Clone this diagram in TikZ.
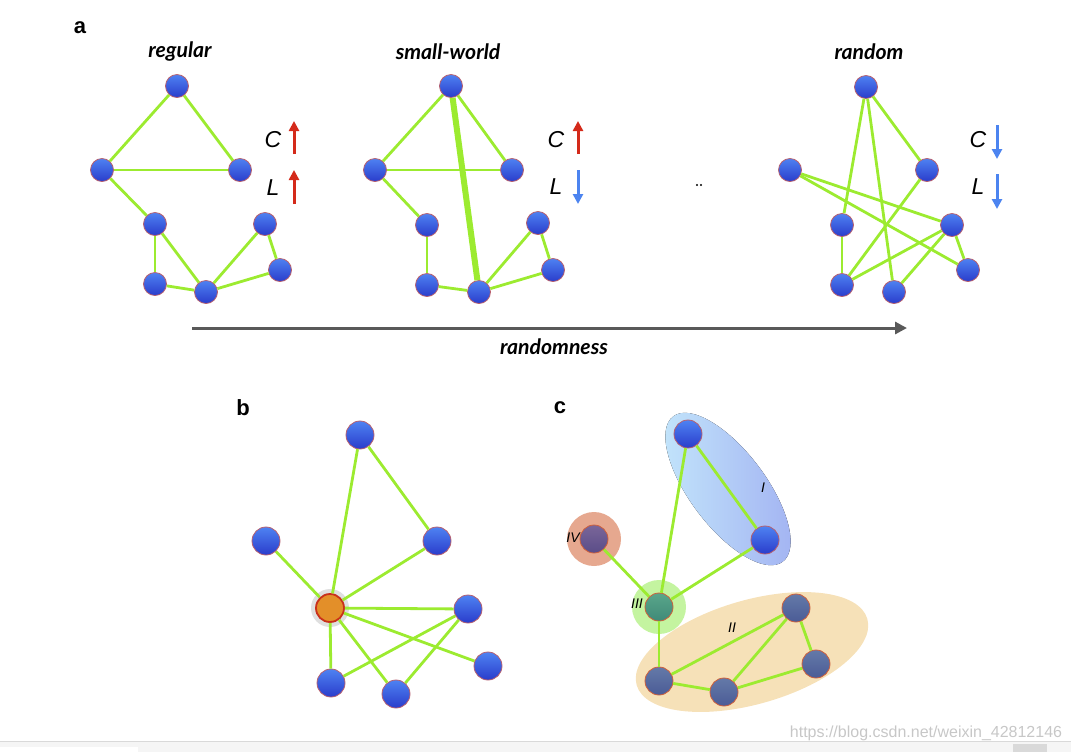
\documentclass[tikz,border=0pt]{standalone}
\usepackage{fontspec}
\setmainfont{Liberation Sans}
\newfontfamily\titlefont{Lato}
\usepackage{xcolor}
\usetikzlibrary{positioning}
\usetikzlibrary{calc}
\usetikzlibrary{arrows.meta}

\definecolor{linkgreen}{HTML}{9CEB30}
\definecolor{nodetop}{HTML}{4E82F2}
\definecolor{nodebot}{HTML}{2A3CCB}
\definecolor{nodering}{HTML}{B8606E}
\definecolor{upred}{HTML}{D42A1A}
\definecolor{downblue}{HTML}{4C84F0}
\definecolor{hubfill}{HTML}{E38F29}
\definecolor{hubring}{HTML}{C9301A}
\definecolor{blobIa}{HTML}{C3E6FB}
\definecolor{blobIb}{HTML}{A2B2F2}
\definecolor{blobII}{HTML}{F6E1B8}
\definecolor{blobIII}{HTML}{C4F4A0}
\definecolor{blobIV}{HTML}{E6A88F}
\definecolor{slatetop}{HTML}{6479A8}
\definecolor{slatebot}{HTML}{4B5C96}
\definecolor{tealtop}{HTML}{5AA68A}
\definecolor{tealbot}{HTML}{3F8A78}
\definecolor{plumtop}{HTML}{7A6699}
\definecolor{plumbot}{HTML}{5A4C88}
\definecolor{warmring}{HTML}{D0603A}

\begin{document}
\begin{tikzpicture}[x=0.5pt, y=-0.5pt, semithick,
  vertex/.style ={circle, draw = nodering, thin, top color = nodetop, bottom color = nodebot, minimum size = 11.5pt, inner sep = 0pt},
  bigvertex/.style ={vertex, minimum size = 14pt},
  toned/.style ={bigvertex, draw = warmring},
  hub/.style ={circle, draw = hubring, line width = 0.9pt, fill = hubfill, minimum size = 14pt, inner sep = 0pt},
  link/.style ={draw = linkgreen, line width = 1.4pt},
  title/.style ={font = \titlefont\bfseries\itshape\fontsize{10.6}{12}\selectfont},
  panel/.style ={font = \bfseries\fontsize{11}{13}\selectfont},
  measure/.style ={font = \itshape\fontsize{11.5}{13}\selectfont},
  region/.style ={font = \itshape\fontsize{7}{8}\selectfont},
  up/.style ={draw = upred, line width = 1.5pt, -{Triangle[length = 5pt, width = 5pt]}},
  down/.style ={draw = downblue, line width = 1.5pt, -{Triangle[length = 5pt, width = 5pt]}}]
\useasboundingbox (0,0) rectangle (1071,752);

% panel a: regular
\node[panel] (pa) at (80,28) {a};
\node[title] (treg) at (180,52) {regular};
\node[vertex] (r1) at (177,86) {};
\node[vertex] (r2) at (102,170) {};
\node[vertex] (r3) at (240,170) {};
\node[vertex] (r4) at (155,224) {};
\node[vertex] (r5) at (265,224) {};
\node[vertex] (r6) at (155,284) {};
\node[vertex] (r7) at (206,292) {};
\node[vertex] (r8) at (280,270) {};
\path[link] (r1) edge (r2)
(r1) edge (r3)
(r2) edge (r3)
(r2) edge (r4)
(r4) edge (r6)
(r4) edge (r7)
(r6) edge (r7)
(r7) edge (r5)
(r5) edge (r8)
(r7) edge (r8);
\node[measure] (cr) at (273,140) {C};
\node[measure] (lr) at (273,188) {L};
\coordinate (cr0) at (294,154); \coordinate (cr1) at (294,121);
\coordinate (lr0) at (294,204); \coordinate (lr1) at (294,170);
\draw[up] (cr0) -- (cr1);
\draw[up] (lr0) -- (lr1);

% panel a: small-world
\node[title] (tsw) at (448,52) {small-world};
\node[vertex] (s1) at (451,86) {};
\node[vertex] (s2) at (375,170) {};
\node[vertex] (s3) at (512,170) {};
\node[vertex] (s4) at (427,225) {};
\node[vertex] (s5) at (538,223) {};
\node[vertex] (s6) at (427,285) {};
\node[vertex] (s7) at (479,292) {};
\node[vertex] (s8) at (553,270) {};
\path[link] (s1) edge (s2)
(s1) edge (s3)
(s2) edge (s3)
(s2) edge (s4)
(s4) edge (s6)
(s6) edge (s7)
(s7) edge (s5)
(s5) edge (s8)
(s7) edge (s8);
\path[link, line width = 3pt] (s1) edge (s7);
\node[measure] (csw) at (556,140) {C};
\node[measure] (lsw) at (556,187) {L};
\coordinate (csw0) at (578,154); \coordinate (csw1) at (578,121);
\coordinate (lsw0) at (578,170); \coordinate (lsw1) at (578,204);
\draw[up] (csw0) -- (csw1);
\draw[down] (lsw0) -- (lsw1);

\fill (697,185) circle (1.2) (701,185) circle (1.2);

% panel a: random
\node[title] (trnd) at (869,52) {random};
\node[vertex] (n1) at (866,87) {};
\node[vertex] (n2) at (790,170) {};
\node[vertex] (n3) at (927,170) {};
\node[vertex] (n4) at (842,225) {};
\node[vertex] (n5) at (952,225) {};
\node[vertex] (n6) at (842,285) {};
\node[vertex] (n7) at (894,292) {};
\node[vertex] (n8) at (968,270) {};
\path[link] (n1) edge (n4)
(n1) edge (n7)
(n1) edge (n3)
(n2) edge (n5)
(n2) edge (n8)
(n3) edge (n6)
(n4) edge (n6)
(n5) edge (n6)
(n5) edge (n7)
(n5) edge (n8);
\node[measure] (crnd) at (978,140) {C};
\node[measure] (lrnd) at (978,187) {L};
\coordinate (crnd0) at (997,125); \coordinate (crnd1) at (997,159);
\coordinate (lrnd0) at (997,174); \coordinate (lrnd1) at (997,209);
\draw[down] (crnd0) -- (crnd1);
\draw[down] (lrnd0) -- (lrnd1);

% randomness axis
\coordinate (ax0) at (192,328);
\coordinate (ax1) at (907,328);
\draw[draw = black!65, line width = 1.5pt, -{Triangle[length = 6pt, width = 6pt]}] (ax0) -- (ax1);
\node[title] (trand) at (554,347) {randomness};

% panel b
\node[panel] (pb) at (243,408) {b};
\fill[black!25, opacity = 0.5] (330,608) circle (19);
\node[bigvertex] (b1) at (360,435) {};
\node[bigvertex] (b2) at (266,541) {};
\node[bigvertex] (b3) at (437,541) {};
\node[hub] (b4) at (330,608) {};
\node[bigvertex] (b5) at (468,609) {};
\node[bigvertex] (b6) at (488,666) {};
\node[bigvertex] (b7) at (331,683) {};
\node[bigvertex] (b8) at (396,694) {};
\path[link] (b1) edge (b4)
(b1) edge (b3)
(b2) edge (b4)
(b3) edge (b4)
(b4) edge (b5)
(b4) edge (b6)
(b4) edge (b7)
(b4) edge (b8)
(b5) edge (b7)
(b5) edge (b8);

% panel c
\node[panel] (pc) at (560,408) {c};
\fill[left color = blobIa, right color = blobIb, rotate around = {-53:(728,489)}] (728,489) ellipse (91 and 38);
\fill[fill = blobII] (752,652) [rotate around = {16:(752,652)}] ellipse (120 and 52);
\fill[fill = blobIII] (659,607) circle (27);
\fill[fill = blobIV] (594,539) circle (27);
\node[bigvertex] (c1) at (688,434) {};
\node[bigvertex] (c2) at (765,540) {};
\node[toned, top color = tealtop, bottom color = tealbot] (c3) at (659,607) {};
\node[toned, top color = plumtop, bottom color = plumbot] (c4) at (594,539) {};
\node[toned, top color = slatetop, bottom color = slatebot] (c5) at (796,608) {};
\node[toned, top color = slatetop, bottom color = slatebot] (c6) at (816,664) {};
\node[toned, top color = slatetop, bottom color = slatebot] (c7) at (659,681) {};
\node[toned, top color = slatetop, bottom color = slatebot] (c8) at (724,692) {};
\path[link] (c1) edge (c2)
(c1) edge (c3)
(c2) edge (c3)
(c4) edge (c3)
(c3) edge (c7)
(c7) edge (c5)
(c7) edge (c8)
(c8) edge (c5)
(c5) edge (c6)
(c8) edge (c6);
\node[region] (gi) at (763,488) {I};
\node[region] (gii) at (732,628) {II};
\node[region] (giii) at (637,604) {III};
\node[region] (giv) at (573,538) {IV};

% watermark and screen strip
\node[text = black!22, font = \fontsize{8}{9}\selectfont] (wm) at (926,733) {https://blog.csdn.net/weixin\_42812146};
\fill[black!4] (0,741) rectangle (1071,752);
\draw[black!15, thin] (0,741) -- (1071,741);
\fill[white] (0,747) rectangle (138,752);
\fill[black!15] (1013,744) rectangle (1047,752);
\end{tikzpicture}
\end{document}
